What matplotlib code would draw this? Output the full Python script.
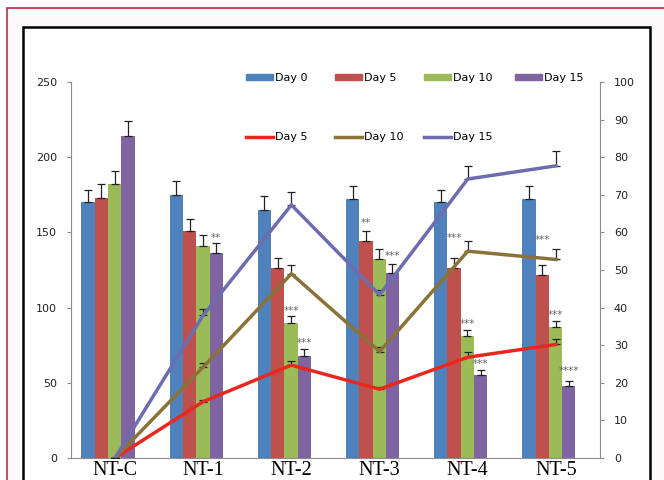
import numpy as np
import matplotlib.pyplot as plt
from matplotlib.patches import Rectangle, Patch
from matplotlib.lines import Line2D

# categories
groups = ['NT-C', 'NT-1', 'NT-2', 'NT-3', 'NT-4', 'NT-5']

# bar series (left axis)
day0 = [170, 175, 165, 172, 170, 172]
day0_err = [8, 9, 9, 9, 8, 9]
day5 = [173, 151, 126, 144, 126, 122]
day5_err = [9, 8, 7, 7, 7, 6]
day10 = [182, 141, 90, 132, 81, 87]
day10_err = [9, 7.5, 4.5, 7, 4, 4]
day15 = [214, 136, 68, 123, 55, 48]
day15_err = [10, 7, 4.5, 6, 3.5, 3]

# line series (right axis)
line5 = [0, 15, 24.7, 18.3, 26.8, 30.2]
line5_err = [0, 0.5, 1, 0.6, 1.5, 1.4]
line10 = [0, 24.2, 49, 28.3, 55, 52.8]
line10_err = [0, 1, 2.2, 1.3, 2.7, 2.8]
line15 = [0, 38, 67.3, 43.4, 74.2, 77.7]
line15_err = [0, 1.5, 3.4, 1.3, 3.5, 4]

# significance marks: (group, bar series, text, dy in points)
sig = [(1, 3, '**', 0), (2, 2, '***', 0), (2, 3, '***', 1),
       (3, 1, '**', 2), (3, 3, '***', 2),
       (4, 1, '***', 11), (4, 2, '***', 1), (4, 3, '***', 1),
       (5, 1, '***', 15), (5, 2, '***', 1), (5, 3, '****', 4)]

bar_colors = ['#4F81BD', '#C0504D', '#9BBB59', '#8064A2']
line_colors = ['#E8281E', '#8B7337', '#6C6DB1']
W, H = 664, 480

fig = plt.figure(figsize=(W / 100, H / 100), dpi=100)

# frames
fig.patches.append(Rectangle((7 / W, -0.1), 1.2, 1.1 - 8 / H,
                             transform=fig.transFigure, facecolor='#fbf9fa',
                             edgecolor='#c8254a', linewidth=1.2, zorder=-3))
fig.patches.append(Rectangle((23 / W, -0.1), (650 - 23) / W, 1.1 - 27 / H,
                             transform=fig.transFigure, facecolor='white',
                             edgecolor='black', linewidth=1.8, zorder=-2))

ax = fig.add_axes([71 / W, 1 - 458 / H, 529 / W, 376 / H])
ax.patch.set_alpha(0)
x = np.arange(len(groups))
w = 0.151
shift = -0.08
bars = [day0, day5, day10, day15]
errs = [day0_err, day5_err, day10_err, day15_err]
labels = ['Day 0', 'Day 5', 'Day 10', 'Day 15']
for k in range(4):
    xs = x + shift + (k - 1.5) * w
    ax.bar(xs, bars[k], w, color=bar_colors[k], zorder=2)
    ax.errorbar(xs, bars[k], yerr=[np.zeros(6), errs[k]], fmt='none',
                ecolor='#222222', elinewidth=0.9, capsize=3, capthick=0.9, zorder=3)

for g, k, txt, dy in sig:
    xs = x[g] + shift + (k - 1.5) * w
    ax.annotate(txt, (xs, bars[k][g] + errs[k][g]), xytext=(0, dy),
                textcoords='offset points', ha='center', va='bottom',
                fontsize=7.5, color='#666666', zorder=4)

ax.set_xlim(-0.5, 5.5)
ax.set_ylim(0, 250)
ax.set_yticks(range(0, 251, 50))
ax.set_xticks(x)
ax.set_xticklabels(groups, fontfamily='Liberation Serif', fontsize=14.5)
ax.tick_params(axis='x', length=0, pad=2)
ax.tick_params(axis='y', length=3, pad=7, colors='#8c8c8c', labelcolor='#222222',
               labelsize=8)
for s in ['top', 'right']:
    ax.spines[s].set_visible(False)
ax.spines['left'].set_color('#8c8c8c')
ax.spines['bottom'].set_color('#8c8c8c')

ax2 = ax.twinx()
lines = [line5, line10, line15]
lerrs = [line5_err, line10_err, line15_err]
for k in range(3):
    ax2.errorbar(x, lines[k], yerr=[np.zeros(6), lerrs[k]], fmt='none',
                 ecolor='#222222', elinewidth=0.9, capsize=3, capthick=0.9)
    ax2.plot(x, lines[k], color=line_colors[k], lw=2.5, solid_joinstyle='miter')
ax2.set_ylim(0, 100)
ax2.set_yticks(range(0, 101, 10))
ax2.tick_params(axis='y', length=3, pad=7, colors='#8c8c8c', labelcolor='#222222',
                labelsize=8)
for s in ['top', 'left', 'bottom']:
    ax2.spines[s].set_visible(False)
ax2.spines['right'].set_color('#8c8c8c')

# legend: one column per block so the columns are evenly spaced like Excel
bh = [Patch(color=c) for c in bar_colors]
lh = [Line2D([], [], color=c, lw=2.5) for c in line_colors]
cols = [([bh[0], lh[0]], ['Day 0', 'Day 5']),
        ([bh[1], lh[1]], ['Day 5', 'Day 10']),
        ([bh[2], lh[2]], ['Day 10', 'Day 15']),
        ([bh[3]], ['Day 15'])]
col_x = [246, 335, 424, 515]
for (hs, ns), cx in zip(cols, col_x):
    fig.legend(hs, ns, loc='upper left',
               bbox_to_anchor=(cx / W, 1 - 73 / H), bbox_transform=fig.transFigure,
               frameon=False, fontsize=8, borderpad=0, borderaxespad=0,
               handlelength=2.4, handleheight=0.45, handletextpad=0.2,
               labelspacing=4.45)

fig.savefig('out.png', dpi=100)
